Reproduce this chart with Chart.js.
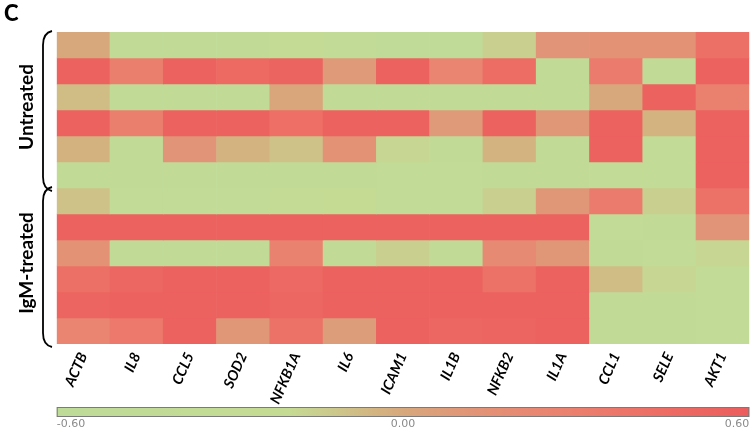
<!DOCTYPE html>
<html>
<head>
<meta charset="utf-8">
<script src="https://cdn.jsdelivr.net/npm/chart.js@4"></script>
<style>
  html, body { margin: 0; padding: 0; background: #ffffff; }
  #wrap { position: relative; width: 755px; height: 435px; }
  #panel { position: absolute; left: 4px; top: -1px; font: 900 22px Lato, "Liberation Sans", sans-serif; color: #000; }
  canvas { display: block; }
</style>
</head>
<body>
<div id="wrap">
  <canvas id="c" width="755" height="435"></canvas>
  <div id="panel">C</div>
</div>
<script>
// ---- data ----
const genes = ['ACTB','IL8','CCL5','SOD2','NFKB1A','IL6','ICAM1','IL1B','NFKB2','IL1A','CCL1','SELE','AKT1'];
const groupLabels = ['Untreated', 'IgM-treated'];
const groupRowCounts = [6, 6];
// one array per sample row (top to bottom), values in gene order
const row01 = [ 0.00,-0.45,-0.45,-0.42,-0.30,-0.38,-0.48,-0.48,-0.15, 0.12, 0.14, 0.14, 0.42];
const row02 = [ 0.55, 0.30, 0.55, 0.47, 0.53, 0.08, 0.55, 0.25, 0.45,-0.45, 0.33,-0.45, 0.55];
const row03 = [-0.08,-0.45,-0.45,-0.45, 0.02,-0.45,-0.45,-0.45,-0.45,-0.45, 0.00, 0.55, 0.28];
const row04 = [ 0.55, 0.30, 0.55, 0.55, 0.43, 0.55, 0.55, 0.08, 0.55, 0.10, 0.55,-0.05, 0.55];
const row05 = [-0.04,-0.45, 0.12,-0.05,-0.10, 0.14,-0.18,-0.45,-0.05,-0.45, 0.55,-0.40, 0.55];
const row06 = [-0.45,-0.45,-0.45,-0.45,-0.45,-0.42,-0.35,-0.38,-0.42,-0.42,-0.35,-0.35, 0.55];
const row07 = [-0.10,-0.40,-0.40,-0.40,-0.30,-0.20,-0.35,-0.40,-0.15, 0.10, 0.33,-0.15, 0.40];
const row08 = [ 0.55, 0.55, 0.55, 0.55, 0.55, 0.55, 0.55, 0.55, 0.55, 0.55,-0.40,-0.45, 0.12];
const row09 = [ 0.14,-0.45,-0.45,-0.45, 0.27,-0.45,-0.15,-0.45, 0.20, 0.10,-0.45,-0.40,-0.18];
const row10 = [ 0.42, 0.50, 0.55, 0.55, 0.48, 0.55, 0.55, 0.55, 0.40, 0.55,-0.08,-0.18,-0.35];
const row11 = [ 0.52, 0.55, 0.55, 0.55, 0.50, 0.55, 0.55, 0.55, 0.55, 0.55,-0.45,-0.45,-0.40];
const row12 = [ 0.25, 0.35, 0.55, 0.10, 0.40, 0.06, 0.55, 0.50, 0.52, 0.55,-0.45,-0.45,-0.40];
const rowsData = [row01,row02,row03,row04,row05,row06,row07,row08,row09,row10,row11,row12];
const colorbarTicks = [-0.60, 0.00, 0.60];

// ---- colour scale ----
const colorStops = [
  [-0.60, [190,219,152]],
  [-0.20, [197,219,148]],
  [-0.12, [204,200,140]],
  [-0.05, [211,180,129]],
  [ 0.00, [215,168,124]],
  [ 0.10, [224,151,120]],
  [ 0.20, [231,138,115]],
  [ 0.30, [235,127,110]],
  [ 0.45, [237,108,100]],
  [ 0.60, [235, 93, 93]]
];
function colorFor(v) {
  if (v <= colorStops[0][0]) return rgb(colorStops[0][1]);
  for (let i = 1; i < colorStops.length; i++) {
    const [v1, c1] = colorStops[i];
    const [v0, c0] = colorStops[i-1];
    if (v <= v1) {
      const t = (v - v0) / (v1 - v0);
      return rgb(c0.map((c, k) => Math.round(c + (c1[k] - c) * t)));
    }
  }
  return rgb(colorStops[colorStops.length-1][1]);
}
function rgb(a) { return 'rgb(' + a.join(',') + ')'; }

const nRows = rowsData.length;
const datasets = rowsData.map((vals, r) => ({
  label: 'row ' + (r + 1),
  data: vals.map(() => [r, r + 1]),
  backgroundColor: vals.map(colorFor),
  borderWidth: 0,
  grouped: false,
  barPercentage: 1.0,
  categoryPercentage: 1.0
}));

const overlay = {
  id: 'overlay',
  afterDraw(chart) {
    const ctx = chart.ctx;
    const y = chart.scales.y;
    const area = chart.chartArea;
    ctx.save();
    // group brackets and labels
    let start = 0;
    groupLabels.forEach((lab, gi) => {
      const end = start + groupRowCounts[gi];
      const top = y.getPixelForValue(start) - 1;
      const bot = y.getPixelForValue(end) + 3;
      const xr = 52, xl = 43;
      ctx.beginPath();
      ctx.lineWidth = 1.8;
      ctx.strokeStyle = '#000';
      ctx.moveTo(xr, top);
      ctx.quadraticCurveTo(xl, top + 2, xl, top + 14);
      ctx.lineTo(xl, bot - 14);
      ctx.quadraticCurveTo(xl, bot - 2, xr, bot);
      ctx.stroke();
      ctx.save();
      ctx.translate(27, (y.getPixelForValue(start) + y.getPixelForValue(end)) / 2 - 3);
      ctx.rotate(-Math.PI / 2);
      ctx.font = 'bold 19px Lato, "Liberation Sans", sans-serif';
      ctx.fillStyle = '#000';
      ctx.textAlign = 'center';
      ctx.textBaseline = 'middle';
      ctx.fillText(lab, 0, 0);
      ctx.restore();
      start = end;
    });
    // colour bar
    const cbTop = 407, cbH = 10;
    const x0 = area.left, x1 = area.right;
    const vmin = colorbarTicks[0], vmax = colorbarTicks[colorbarTicks.length - 1];
    const grad = ctx.createLinearGradient(x0, 0, x1, 0);
    colorStops.forEach(([v, c]) => grad.addColorStop((v - vmin) / (vmax - vmin), rgb(c)));
    ctx.fillStyle = grad;
    ctx.fillRect(x0, cbTop, x1 - x0, cbH);
    ctx.lineWidth = 1;
    ctx.strokeStyle = '#7a7a7a';
    ctx.strokeRect(x0 + 0.5, cbTop + 0.5, x1 - x0 - 1, cbH - 1);
    ctx.font = '11px "DejaVu Sans", sans-serif';
    ctx.fillStyle = '#8a8a8a';
    ctx.textBaseline = 'top';
    colorbarTicks.forEach((t, i) => {
      const px = x0 + (t - vmin) / (vmax - vmin) * (x1 - x0);
      ctx.textAlign = i === 0 ? 'left' : (i === colorbarTicks.length - 1 ? 'right' : 'center');
      ctx.fillText(t.toFixed(2), px, cbTop + cbH + 2);
    });
    ctx.restore();
  }
};

new Chart(document.getElementById('c'), {
  type: 'bar',
  data: { labels: genes, datasets },
  options: {
    responsive: false,
    animation: false,
    devicePixelRatio: 1,
    layout: { padding: { left: 56.7, right: 5.7, top: 32, bottom: 0 } },
    plugins: { legend: { display: false }, tooltip: { enabled: false } },
    scales: {
      x: {
        grid: { display: false, drawTicks: false },
        border: { display: false },
        ticks: {
          autoSkip: false,
          minRotation: 66,
          maxRotation: 66,
          padding: 6,
          color: '#000',
          font: { family: 'Lato, "Liberation Sans", sans-serif', size: 14.5, style: 'italic', weight: 'bold' }
        },
        afterFit(axis) { axis.height = 91; }
      },
      y: {
        display: false,
        min: 0,
        max: nRows,
        reverse: true
      }
    }
  },
  plugins: [overlay]
});
</script>
</body>
</html>
